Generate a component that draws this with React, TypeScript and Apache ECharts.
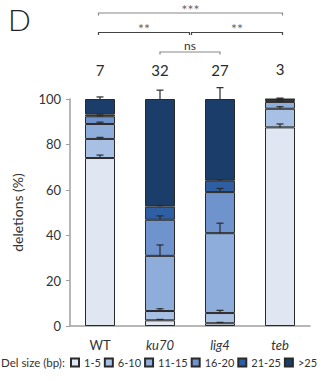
import React, { useEffect, useRef } from "react";
import * as echarts from "echarts";

const categories = ["WT", "ku70", "lig4", "teb"];
const counts = ["7", "32", "27", "3"];
const sizeClasses = ["1-5", "6-10", "11-15", "16-20", "21-25", ">25"];
const colors = ["#e0e7f3", "#a9c0e5", "#8eaddb", "#6f93cd", "#2e5fa3", "#1b3d69"];

// percent of deletions per size class, per genotype (WT, ku70, lig4, teb)
const s1to5 = [74.0, 2.5, 1.2, 87.5];
const s6to10 = [8.4, 4.1, 4.5, 8.2];
const s11to15 = [6.6, 24.3, 35.2, 3.0];
const s16to20 = [3.4, 15.9, 18.1, 0.8];
const s21to25 = [0.8, 5.8, 5.0, 0.3];
const sOver25 = [6.8, 47.4, 36.0, 0.2];
const seriesValues = [s1to5, s6to10, s11to15, s16to20, s21to25, sOver25];

// error bar tops (cumulative %), per segment
const errWT = [75.3, 83.1, 89.8, 92.6, 93.4, 100.9];
const errKu70 = [2.9, 7.6, 35.7, 48.5, 53.1, 103.9];
const errLig4 = [1.6, 6.9, 45.3, 60.6, 64.5, 105.0];
const errTeb = [89.0, 96.6, 99.0, 99.7, 100.0, 100.4];
const errorTops = [errWT, errKu70, errLig4, errTeb];

const brackets = [
  { from: 0, to: 3, label: "***", level: 2, shrinkL: 0, shrinkR: 0 },
  { from: 0, to: 1.5, label: "**", level: 1, shrinkL: 0, shrinkR: 3 },
  { from: 1.5, to: 3, label: "**", level: 1, shrinkL: 3, shrinkR: 0 },
  { from: 1, to: 2, label: "ns", level: 0, shrinkL: 0, shrinkR: 0 },
];

const FONT = "Lato, 'Open Sans', sans-serif";

export default function App() {
  const ref = useRef<HTMLDivElement>(null);
  useEffect(() => {
    if (!ref.current) return;
    const chart = echarts.init(ref.current, undefined, { renderer: "svg" });

    const errData: number[][] = [];
    errorTops.forEach((tops, ci) => {
      let cum = 0;
      tops.forEach((t, si) => {
        cum += seriesValues[si][ci];
        errData.push([ci, cum, t]);
      });
    });

    const barSeries = sizeClasses.map((name, si) => ({
      name,
      type: "bar",
      stack: "total",
      barWidth: 30,
      data: seriesValues[si],
      itemStyle: { color: colors[si], borderColor: "#2a2a2a", borderWidth: 1 },
      label:
        si === sizeClasses.length - 1
          ? {
              show: true,
              position: "top",
              distance: 22,
              formatter: (p: any) => counts[p.dataIndex],
              fontSize: 15,
              fontFamily: FONT,
              color: "#2b2b2b",
            }
          : { show: false },
    }));

    const levelOffsets = [-47, -66.5, -86];

    chart.setOption({
      animation: false,
      textStyle: { fontFamily: FONT },
      grid: { left: 70, right: 17, top: 99, bottom: 55, containLabel: false },
      graphic: [
        {
          type: "text",
          left: 8,
          top: 4,
          style: { text: "D", fontSize: 30, fontWeight: 300, fontFamily: FONT, fill: "#222" },
        },
        {
          type: "text",
          left: 1,
          top: 356,
          style: { text: "Del size (bp):", fontSize: 11.5, fontFamily: FONT, fill: "#333" },
        },
      ],
      legend: {
        data: sizeClasses,
        left: 70,
        top: 357,
        width: 270,
        padding: 0,
        itemWidth: 8,
        itemHeight: 8,
        itemGap: 3,
        icon: "rect",
        textStyle: { fontSize: 11, fontFamily: FONT, color: "#333" },
        selectedMode: false,
      },
      xAxis: {
        type: "category",
        data: categories,
        axisLine: { lineStyle: { color: "#a0a0a0", width: 1.5 } },
        axisTick: { show: false },
        axisLabel: {
          margin: 12,
          fontSize: 13,
          color: "#333",
          formatter: (v: string) => (v === "WT" ? v : "{i|" + v + "}"),
          rich: { i: { fontStyle: "italic", fontSize: 13, color: "#333", fontFamily: FONT } },
        },
      },
      yAxis: {
        type: "value",
        min: 0,
        max: 100,
        interval: 20,
        name: "deletions (%)",
        nameLocation: "middle",
        nameGap: 46,
        nameTextStyle: { fontSize: 14, color: "#333", fontFamily: FONT },
        axisLine: { show: true, lineStyle: { color: "#a0a0a0", width: 1.5 } },
        axisTick: { show: true, length: 4, lineStyle: { color: "#a0a0a0" } },
        axisLabel: { fontSize: 13, color: "#333", margin: 9 },
        splitLine: { show: false },
      },
      series: [
        ...barSeries,
        {
          type: "custom",
          name: "err",
          z: 5,
          data: errData,
          renderItem: (params: any, api: any) => {
            const x = api.value(0);
            const p0 = api.coord([x, api.value(1)]);
            const p1 = api.coord([x, api.value(2)]);
            const style = { stroke: "#2a2a2a", lineWidth: 1.2 };
            return {
              type: "group",
              children: [
                { type: "line", shape: { x1: p0[0], y1: p0[1], x2: p1[0], y2: p1[1] }, style },
                { type: "line", shape: { x1: p1[0] - 3.5, y1: p1[1], x2: p1[0] + 3.5, y2: p1[1] }, style },
              ],
            };
          },
        },
        {
          type: "custom",
          name: "sig",
          z: 5,
          data: [[0]],
          renderItem: (params: any, api: any) => {
            const children: any[] = [];
            brackets.forEach((b) => {
              const top = api.coord([0, 100])[1];
              const y = top + levelOffsets[b.level];
              const xa = api.coord([Math.floor(b.from), 100])[0];
              const xb = api.coord([Math.floor(b.to), 100])[0];
              const xa2 = api.coord([Math.ceil(b.from), 100])[0];
              const xb2 = api.coord([Math.ceil(b.to), 100])[0];
              const x1 = (b.from % 1 === 0 ? xa : (xa + xa2) / 2) + b.shrinkL - (b.level === 0 ? 0 : 1.5);
              const x2 = (b.to % 1 === 0 ? xb : (xb + xb2) / 2) - b.shrinkR + (b.level === 0 ? 0 : 2.5);
              const color = b.level === 1 ? "#444" : "#888";
              const style = { stroke: color, lineWidth: 1.2, fill: "none" };
              children.push({
                type: "polyline",
                shape: { points: [[x1, y + 2.5], [x1, y], [x2, y], [x2, y + 2.5]] },
                style,
              });
              children.push({
                type: "text",
                x: (x1 + x2) / 2,
                y: b.label === "ns" ? y - 7 : y - 4,
                style: {
                  text: b.label,
                  fontSize: b.label === "ns" ? 12 : 14,
                  fontFamily: FONT,
                  fill: b.label === "ns" ? "#333" : "#666",
                  align: "center",
                  verticalAlign: "middle",
                },
              });
            });
            return { type: "group", children };
          },
        },
      ],
    });
    return () => chart.dispose();
  }, []);
  return (
    <div
      ref={ref}
      style={{ position: "fixed", left: 0, top: 0, width: 327, height: 381, background: "#fff" }}
    />
  );
}
